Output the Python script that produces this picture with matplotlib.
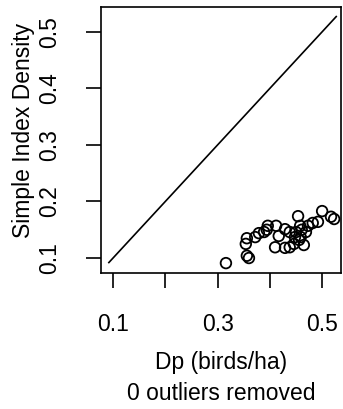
import matplotlib
matplotlib.use('Agg')
import matplotlib.pyplot as plt

plt.rcParams['font.family'] = ['Liberation Sans', 'DejaVu Sans']

# Observed densities: Dp (birds/ha) vs simple index density
dp = [0.316, 0.356, 0.360, 0.354, 0.356, 0.372, 0.379, 0.389, 0.396, 0.394,
      0.412, 0.417, 0.410, 0.429, 0.429, 0.438, 0.446, 0.448, 0.454, 0.458,
      0.459, 0.461, 0.465, 0.469, 0.473, 0.482, 0.492, 0.500, 0.517, 0.523,
      0.438, 0.450, 0.456]
sid = [0.091, 0.104, 0.100, 0.125, 0.135, 0.137, 0.144, 0.146, 0.157, 0.150,
       0.157, 0.139, 0.119, 0.118, 0.151, 0.119, 0.125, 0.137, 0.174, 0.157,
       0.137, 0.150, 0.123, 0.146, 0.157, 0.162, 0.164, 0.183, 0.173, 0.169,
       0.146, 0.146, 0.132]

line_ends = [0.092, 0.527]
x_ticks = [0.1, 0.2, 0.3, 0.4, 0.5]
x_tick_labels = ['0.1', '', '0.3', '', '0.5']
y_ticks = [0.1, 0.2, 0.3, 0.4, 0.5]
y_tick_labels = ['0.1', '0.2', '0.3', '0.4', '0.5']

fs = 16.5

fig = plt.figure(figsize=(3.43, 4.09), dpi=100)
ax = fig.add_axes([0.2945, 0.3325, 0.6995, 0.6505])

ax.plot(line_ends, line_ends, color='black', linewidth=1.2)
ax.scatter(dp, sid, s=58, facecolors='none', edgecolors='black', linewidths=1.3)

ax.set_xlim(0.077, 0.536)
ax.set_ylim(0.0735, 0.544)

ax.set_xticks(x_ticks)
ax.set_xticklabels(x_tick_labels, fontsize=fs)
ax.set_yticks(y_ticks)
ax.set_yticklabels(y_tick_labels, fontsize=fs, rotation=90, va='center')

ax.tick_params(axis='both', length=11, width=1.2, color='black')
ax.tick_params(axis='x', pad=18)
ax.tick_params(axis='y', pad=18)

for sp in ax.spines.values():
    sp.set_linewidth(1.2)

fig.text(0.068, 0.68, 'Simple Index Density', rotation=90, fontsize=fs,
         ha='center', va='center')
fig.text(0.644, 0.1125, 'Dp (birds/ha)', fontsize=fs, ha='center', va='center')
fig.text(0.644, 0.039, '0 outliers removed', fontsize=fs, ha='center', va='center')

plt.savefig('out.png', dpi=100)
plt.close()
